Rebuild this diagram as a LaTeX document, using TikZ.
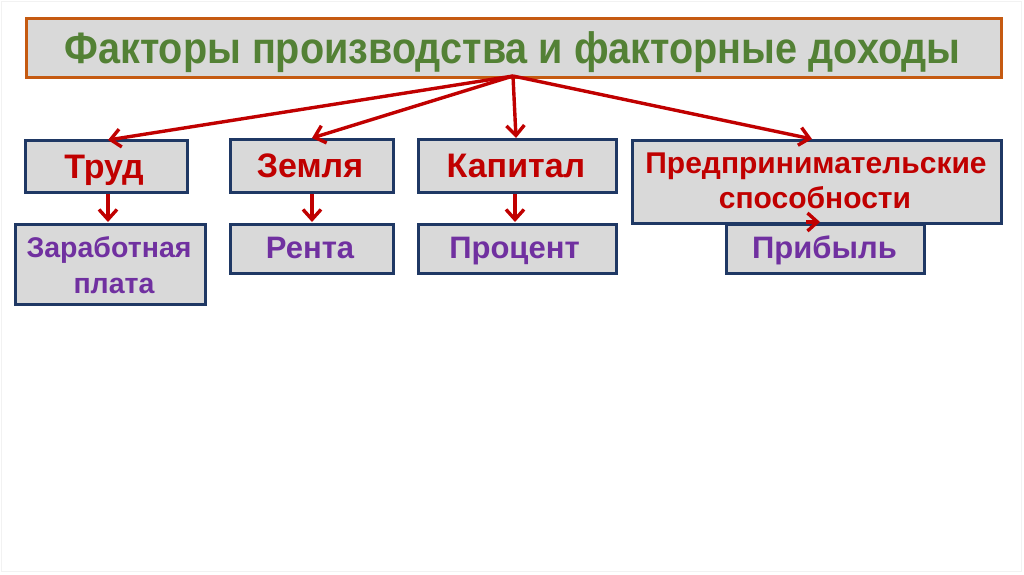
\documentclass[tikz,border=0pt]{standalone}
\usepackage{fontspec}
\setmainfont{Liberation Sans}
\newfontfamily\titlefont[FakeStretch=0.9]{Liberation Sans}
\usetikzlibrary{arrows.meta}
\definecolor{boxfill}{HTML}{D9D9D9}
\definecolor{navy}{HTML}{1F3864}
\definecolor{orng}{HTML}{C55A11}
\definecolor{grn}{HTML}{538135}
\definecolor{redc}{HTML}{C00000}
\definecolor{purp}{HTML}{7030A0}
\tikzset{
  box/.style={draw=navy, line width=3.2pt, fill=boxfill, inner sep=0pt, anchor=north west},
  ftxt/.style={anchor=base, inner sep=0pt, text=redc, font=\fontsize{34}{36}\selectfont\bfseries},
  itxt/.style={anchor=base, inner sep=0pt, text=purp, font=\fontsize{31}{33}\selectfont\bfseries},
  arr/.style={draw=redc, line width=3.4pt, -{Straight Barb[length=10pt,width=18pt,line width=3.4pt]}}
}
\begin{document}
\begin{tikzpicture}[x=1pt,y=-1pt]
\useasboundingbox (0,0) rectangle (1024,574);
\fill[white] (0,0) rectangle (1024,574);
\draw[gray!10, line width=1pt] (1,1) rectangle (1021,571);
% boxes
\node[box, draw=orng, minimum width=975pt, minimum height=59pt] (title) at (25,17) {};
\node[box, minimum width=162pt, minimum height=52pt] (trud) at (24,139) {};
\node[box, minimum width=163pt, minimum height=53pt] (zem) at (229,138) {};
\node[box, minimum width=198pt, minimum height=53pt] (kap) at (417,138) {};
\node[box, minimum width=190pt, minimum height=80pt] (zp) at (14,223) {};
\node[box, minimum width=163pt, minimum height=49pt] (renta) at (229,223) {};
\node[box, minimum width=198pt, minimum height=49pt] (proc) at (417,223) {};
\node[box, minimum width=198pt, minimum height=49pt] (prib) at (725,223) {};
\node[box, minimum width=369pt, minimum height=83pt] (pred) at (631,139) {};
% arrows
\coordinate (o) at (513,76);
\coordinate (a1) at (108,140);
\coordinate (a2) at (312,138);
\coordinate (a3) at (516,138);
\coordinate (a4) at (812,139);
\draw[arr] (o) -- (a1);
\draw[arr] (o) -- (a2);
\draw[arr] (o) -- (a3);
\draw[arr] (o) -- (a4);
\draw[arr] (trud.south -| 108,0) -- (108,222);
\draw[arr] (zem.south -| 312,0) -- (312,222);
\draw[arr] (kap.south -| 515,0) -- (515,222);
\coordinate (b1) at (806,222);
\draw[arr] (b1) -- (820,222);
% texts
\node[anchor=base, inner sep=0pt, text=grn, font=\titlefont\fontsize{44}{46}\selectfont\bfseries] (titletxt) at (512.5,63) {Факторы производства и факторные доходы};
\node[ftxt] (t1) at (104,178) {Труд};
\node[ftxt] (t2) at (310,177) {Земля};
\node[ftxt] (t3) at (516,177) {Капитал};
\node[ftxt, font=\fontsize{30}{32}\selectfont\bfseries] (t4a) at (816,173) {Предпринимательские};
\node[ftxt, font=\fontsize{30}{32}\selectfont\bfseries] (t4b) at (815,208) {способности};
\node[itxt, font=\fontsize{28.5}{30}\selectfont\bfseries] (i1a) at (109,257) {Заработная};
\node[itxt, font=\fontsize{28.5}{30}\selectfont\bfseries] (i1b) at (114,293) {плата};
\node[itxt] (i2) at (310,258) {Рента};
\node[itxt] (i3) at (514.5,258) {Процент};
\node[itxt] (i4) at (824.5,258) {Прибыль};
\end{tikzpicture}
\end{document}
